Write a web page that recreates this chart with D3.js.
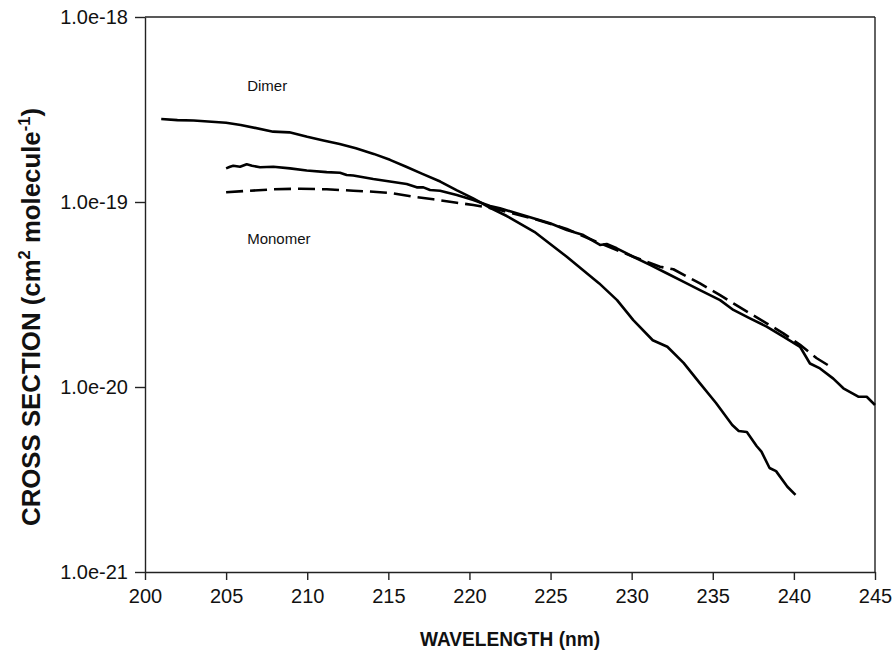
<!DOCTYPE html>
<html>
<head>
<meta charset="utf-8">
<script src="https://cdn.jsdelivr.net/npm/d3@7"></script>
<style>
  body { margin: 0; background: #fff; }
  svg text { font-family: "Liberation Sans", Arial, sans-serif; fill: #111; }
  .axis path, .axis line { stroke: #222; stroke-width: 1.4; }
</style>
</head>
<body>
<svg id="chart" width="893" height="659"></svg>
<script>
// wavelengths (nm) and cross sections (cm2 molecule-1)
let dimerWl = [201.0, 202.0, 203.0, 205.0, 205.9, 207.9, 208.9, 210.0, 211.0, 212.0, 213.0, 214.1, 215.1, 216.1,
  217.1, 218.2, 219.2, 220.2, 221.3, 222.3, 224.0, 226.0, 228.0, 229.1, 230.1, 231.3, 232.2, 233.2,
  234.2, 235.2, 236.2, 236.6, 237.1, 237.7, 238.0, 238.5, 238.9, 239.6, 240.1]
let dimerXs = [2.81e-19, 2.77e-19, 2.76e-19, 2.68e-19, 2.61e-19, 2.40e-19, 2.38e-19, 2.25e-19, 2.15e-19, 2.06e-19,
  1.95e-19, 1.82e-19, 1.69e-19, 1.55e-19, 1.42e-19, 1.29e-19, 1.16e-19, 1.05e-19, 9.28e-20, 8.4e-20,
  6.9e-20, 5.06e-20, 3.63e-20, 2.95e-20, 2.30e-20, 1.79e-20, 1.65e-20, 1.35e-20, 1.05e-20, 8.19e-21,
  6.23e-21, 5.78e-21, 5.71e-21, 4.80e-21, 4.47e-21, 3.65e-21, 3.51e-21, 2.89e-21, 2.61e-21]

let monomerWl = [205.0, 205.24, 205.44, 205.86, 206.27, 206.6, 207.09, 207.91, 208.94, 209.97, 211.2, 212.02,
  212.43, 212.84, 214.07, 215.1, 216.13, 216.75, 217.16, 217.57, 218.19, 219.22, 220.24, 221.27, 221.88,
  222.91, 223.94, 224.97, 226.0, 227.02, 228.05, 228.46, 229.08, 230.1, 231.13, 232.16, 233.18, 234.21,
  235.45, 236.27, 237.29, 238.32, 239.35, 240.38, 240.99, 241.61, 242.43, 243.05, 243.97, 244.49, 245.0]
let monomerXs = [1.52e-19, 1.55e-19, 1.57e-19, 1.55e-19, 1.60e-19, 1.57e-19, 1.54e-19, 1.55e-19, 1.52e-19,
  1.48e-19, 1.45e-19, 1.44e-19, 1.40e-19, 1.39e-19, 1.33e-19, 1.29e-19, 1.25e-19, 1.20e-19, 1.20e-19,
  1.16e-19, 1.15e-19, 1.09e-19, 1.025e-19, 9.51e-20, 9.24e-20, 8.69e-20, 8.16e-20, 7.67e-20, 7.06e-20,
  6.63e-20, 5.86e-20, 5.93e-20, 5.62e-20, 5.06e-20, 4.57e-20, 4.12e-20, 3.71e-20, 3.34e-20, 2.95e-20,
  2.61e-20, 2.35e-20, 2.12e-20, 1.87e-20, 1.65e-20, 1.34e-20, 1.26e-20, 1.11e-20, 9.84e-21, 8.86e-21,
  8.86e-21, 7.99e-21]

// dashed curve
let dashWl = [205.0, 206.47, 207.91, 209.56, 211.2, 212.84, 214.07, 215.31, 216.54, 217.77, 219.22, 220.24,
  220.85, 221.88, 223.94, 226.0, 228.05, 230.1, 231.75, 232.57, 234.21, 235.45, 236.27, 237.29, 238.32,
  239.35, 240.38, 241.41, 242.43]
let dashXs = [1.128e-19, 1.151e-19, 1.171e-19, 1.180e-19, 1.171e-19, 1.151e-19, 1.137e-19, 1.114e-19,
  1.068e-19, 1.034e-19, 9.91e-20, 9.63e-20, 9.43e-20, 9.05e-20, 8.13e-20, 7.15e-20, 5.98e-20, 5.06e-20,
  4.47e-20, 4.33e-20, 3.63e-20, 3.14e-20, 2.83e-20, 2.50e-20, 2.21e-20, 1.95e-20, 1.69e-20, 1.43e-20,
  1.26e-20]

let xTicks = [200, 205, 210, 215, 220, 225, 230, 235, 240, 245]
let yTicks = [1e-21, 1e-20, 1e-19, 1e-18]

let margin = { top: 17, right: 18, bottom: 87, left: 145 }
let width = 893 - margin.left - margin.right
let height = 659 - margin.top - margin.bottom

let svg = d3.select('#chart')
let g = svg.append('g')
    .attr('transform', 'translate(' + margin.left + ',' + margin.top + ')')

let x = d3.scaleLinear().domain([200, 245]).range([0, width])
let y = d3.scaleLog().domain([1e-21, 1e-18]).range([height, 0])

// axes
g.append('g').attr('class', 'axis x')
    .attr('transform', 'translate(0,' + height + ')')
    .call(d3.axisBottom(x).tickValues(xTicks).tickSize(8).tickSizeOuter(0).tickPadding(9))
    .call(a => a.selectAll('text').attr('font-size', 20).attr('fill', '#111'))

g.append('g').attr('class', 'axis y')
    .call(d3.axisLeft(y).tickValues(yTicks).tickFormat(d => d.toExponential(1))
      .tickSize(10).tickSizeOuter(0).tickPadding(7))
    .call(a => a.selectAll('text').attr('font-size', 20).attr('fill', '#111'))

// top and right frame
g.append('line').attr('x1', 0).attr('x2', width).attr('y1', 0).attr('y2', 0)
    .attr('stroke', '#222').attr('stroke-width', 1.4)
g.append('line').attr('x1', width).attr('x2', width).attr('y1', 0).attr('y2', height)
    .attr('stroke', '#222').attr('stroke-width', 1.4)

let line = d3.line().x(d => x(d[0])).y(d => y(d[1]))

let series = [
  { wl: dimerWl, xs: dimerXs, dash: null },
  { wl: monomerWl, xs: monomerXs, dash: null },
  { wl: dashWl, xs: dashXs, dash: '17,7' }
]

g.selectAll('.curve')
    .data(series)
    .enter()
    .append('path')
    .attr('class', 'curve')
    .attr('fill', 'none')
    .attr('stroke', '#000')
    .attr('stroke-width', 2.6)
    .attr('stroke-linejoin', 'round')
    .attr('stroke-dasharray', d => d.dash)
    .attr('d', d => line(d.wl.map((w, i) => [w, d.xs[i]])))

// curve labels
g.append('text').attr('x', x(206.3)).attr('y', y(4.0e-19)).attr('font-size', 15).text('Dimer')
g.append('text').attr('x', x(206.3)).attr('y', y(5.9e-20)).attr('font-size', 15).text('Monomer')

// axis titles
svg.append('text')
    .attr('x', 510)
    .attr('y', 646)
    .attr('text-anchor', 'middle')
    .attr('font-size', 21)
    .attr('font-weight', 'bold')
    .attr('textLength', 180)
    .attr('lengthAdjust', 'spacingAndGlyphs')
    .text('WAVELENGTH (nm)')

let yTitle = svg.append('text')
    .attr('transform', 'translate(40,317) rotate(-90)')
    .attr('text-anchor', 'middle')
    .attr('font-size', 25)
    .attr('font-weight', 'bold')
    .attr('textLength', 418)
    .attr('lengthAdjust', 'spacingAndGlyphs')
yTitle.append('tspan').text('CROSS SECTION (cm')
yTitle.append('tspan').attr('dy', -10).attr('font-size', 16).text('2')
yTitle.append('tspan').attr('dy', 10).text(' molecule')
yTitle.append('tspan').attr('dy', -10).attr('font-size', 16).text('-1')
yTitle.append('tspan').attr('dy', 10).text(')')
</script>
</body>
</html>
